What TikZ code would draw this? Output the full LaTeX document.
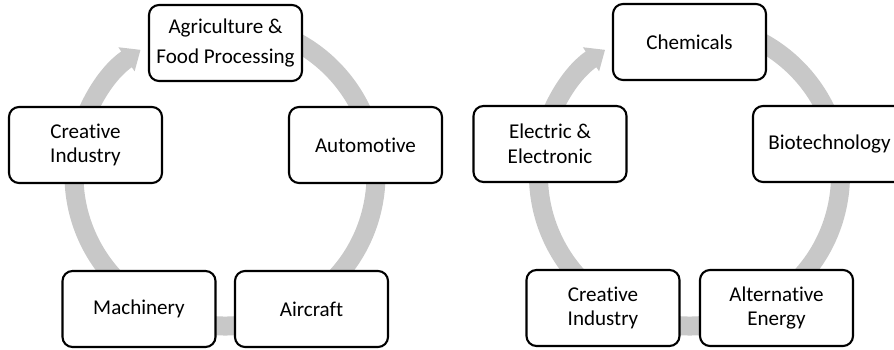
\documentclass[tikz,border=0pt]{standalone}
\usepackage{fontspec}
\setmainfont{Carlito}[Ligatures=NoCommon]
\usetikzlibrary{arrows.meta}

\definecolor{ringgray}{RGB}{200,200,200}

\tikzset{
  sector/.style={draw, line width=1.2pt, rounded corners=0.2cm, fill=white,
    minimum width=3.06cm, minimum height=1.52cm, align=center, inner sep=2pt,
    font=\fontsize{12}{14}\selectfont},
  cycle arrow/.style={draw=ringgray, line width=0.38cm,
    -{Triangle[length=0.34cm,width=0.56cm]}}
}

\begin{document}
\begin{tikzpicture}[x=0.02cm,y=0.02cm]
    \useasboundingbox (0,0) rectangle (894,349);
    \clip (0,0) rectangle (894,349);
    % gray circular arrows behind both cycles
    \foreach \cx in {225,689.5}
        \draw[cycle arrow] (\cx,174) ++(80:151) arc[start angle=80,end angle=-236,radius=151];
    % first cycle
    \node[sector,font=\fontsize{12}{17}\selectfont] (agri) at (225.5,306) {Agriculture \&\\Food Processing};
    \node[sector] (auto) at (365.5,204) {Automotive};
    \node[sector] (aircraft) at (311.5,40) {Aircraft};
    \node[sector] (machinery) at (139,40) {Machinery};
    \node[sector] (creativeA) at (85.5,204) {Creative\\Industry};
    % second cycle
    \node[sector] (chem) at (689.5,307) {Chemicals};
    \node[sector] (bio) at (829.5,205) {Biotechnology};
    \node[sector] (energy) at (776.5,41) {Alternative\\Energy};
    \node[sector] (creativeB) at (603,41) {Creative\\Industry};
    \node[sector] (elec) at (550,205) {Electric \&\\Electronic};
\end{tikzpicture}
\end{document}
